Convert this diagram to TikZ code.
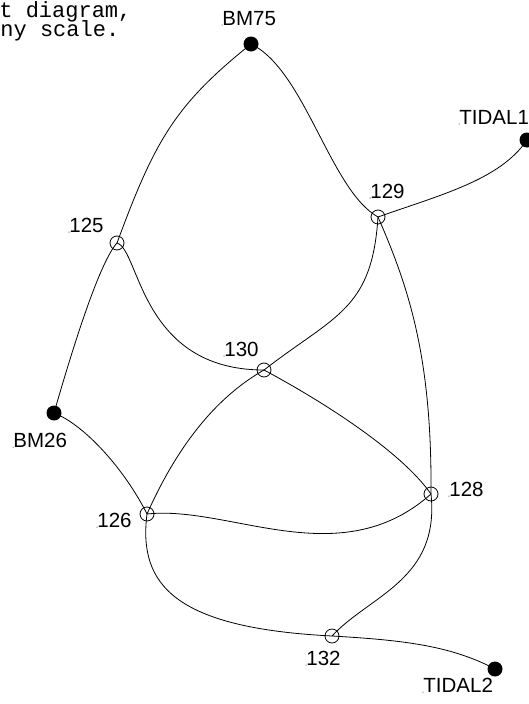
\documentclass[tikz,border=0pt]{standalone}
\usepackage{fontspec}
\setmainfont{Liberation Sans}
\newfontfamily\notefont{Liberation Mono}
\usetikzlibrary{positioning}

\begin{document}
\begin{tikzpicture}[x=1pt, y=-1pt, line width=0.8pt,
    bm/.style={circle, fill=black, inner sep=0pt, minimum size=15pt},
    stn/.style={circle, draw, inner sep=0pt, minimum size=14pt},
    lbl/.style={anchor=base west, inner sep=0pt, font=\fontsize{20.5}{23}\selectfont},
    note/.style={anchor=base west, inner sep=0pt, text height=13pt, text depth=3pt,
      font=\notefont\fontsize{22}{24}\selectfont}]
  \useasboundingbox (0,0) rectangle (529,704);
  % cut-off note, top left
  \node[note] (note1) at (-1,17) {t diagram,};
  \node[note] (note2) at (0,36) {ny scale.};
  % bench marks and tidal points
  \node[bm] (bm75) at (251,44) {};
  \node[bm] (bm26) at (54,413) {};
  \node[bm] (tidal1) at (527,140) {};
  \node[bm] (tidal2) at (495,669) {};
  % stations
  \node[stn] (s125) at (117,243) {};
  \node[stn] (s129) at (378,217) {};
  \node[stn] (s130) at (264,370) {};
  \node[stn] (s126) at (147,514) {};
  \node[stn] (s128) at (431,494) {};
  \node[stn] (s132) at (332,636) {};
  % labels
  \node[lbl] (lbm75) at (222,25) {BM75};
  \node[lbl] (ltidal1) at (459,124) {TIDAL1};
  \node[lbl] (l129) at (370,198) {129};
  \node[lbl] (l125) at (69,232) {125};
  \node[lbl] (l130) at (224,356) {130};
  \node[lbl] (lbm26) at (13,447) {BM26};
  \node[lbl] (l126) at (97,527) {126};
  \node[lbl] (l128) at (449,496) {128};
  \node[lbl] (l132) at (306,665) {132};
  \node[lbl] (ltidal2) at (423,692) {TIDAL2};
  \foreach \l in {lbm75,ltidal1,l129,l125,l130,lbm26,l126,l128,l132,ltidal2}
    \fill (\l.base west) circle (0.5pt);
  % lines
  \draw (bm75.center) .. controls (175,105) and (155,140) .. (s125.center);
  \draw (bm75.center) .. controls (305,70) and (330,190) .. (s129.center);
  \draw (s129.center) .. controls (440,195) and (500,180) .. (tidal1.center);
  \draw (s125.center) .. controls (100,262) and (75,340) .. (bm26.center);
  \draw (s125.center) .. controls (140,250) and (140,370) .. (s130.center);
  \draw (s129.center) .. controls (372,310) and (335,315) .. (s130.center);
  \draw (s129.center) .. controls (410,290) and (432,360) .. (s128.center);
  \draw (s130.center) .. controls (320,400) and (400,450) .. (s128.center);
  \draw (s130.center) .. controls (220,395) and (180,440) .. (s126.center);
  \draw (bm26.center) .. controls (85,425) and (125,470) .. (s126.center);
  \draw (s126.center) .. controls (230,505) and (340,575) .. (s128.center);
  \draw (s126.center) .. controls (138,585) and (175,628) .. (s132.center);
  \draw (s128.center) .. controls (440,580) and (370,595) .. (s132.center);
  \draw (s132.center) .. controls (400,640) and (450,645) .. (tidal2.center);
\end{tikzpicture}
\end{document}
